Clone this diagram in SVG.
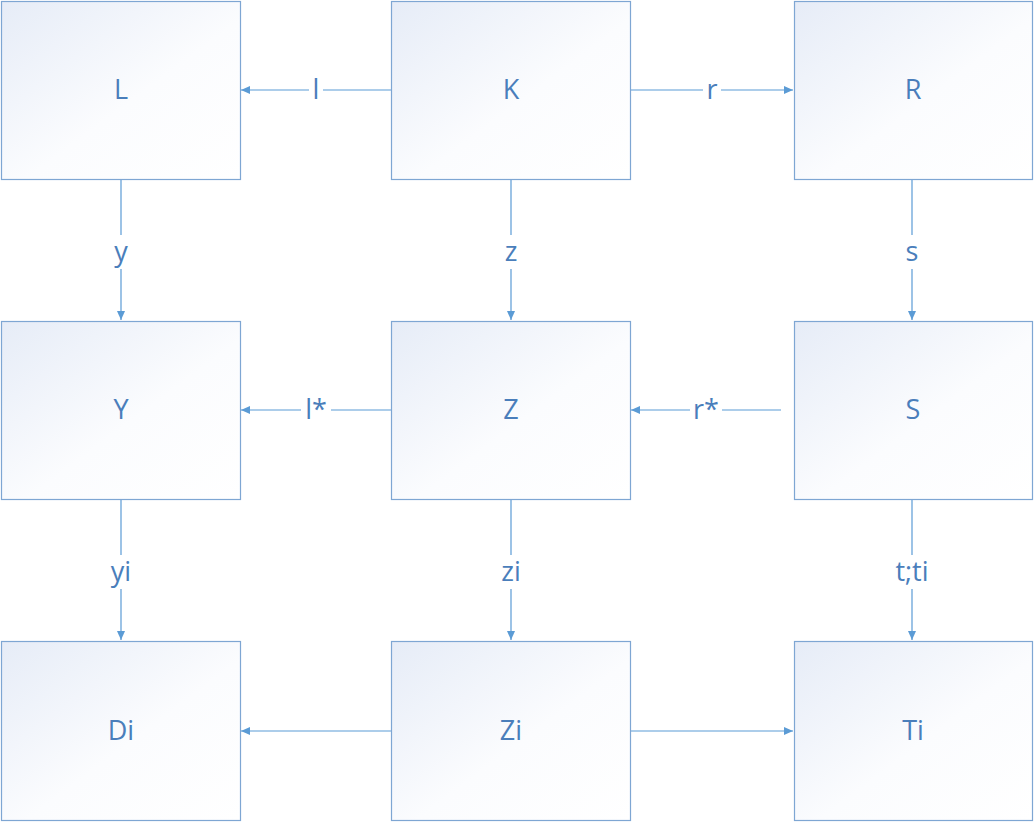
<svg xmlns="http://www.w3.org/2000/svg" width="1034" height="822" viewBox="0 0 1034 822">
<defs>
<linearGradient id="g" x1="0" y1="0" x2="1" y2="1">
<stop offset="0" stop-color="#e6ecf7"/>
<stop offset="0.55" stop-color="#fbfcfe"/>
<stop offset="1" stop-color="#ffffff"/>
</linearGradient>
<marker id="a" markerWidth="10" markerHeight="10" refX="9" refY="5" orient="auto" markerUnits="userSpaceOnUse">
<path d="M0,1 L9,5 L0,9 Z" fill="#5b9bd5"/>
</marker>
<style>
.box{fill:url(#g);stroke:#7ea6d3;stroke-width:1.2}
.t{font-family:"Open Sans","Noto Sans",sans-serif;font-size:27px;fill:#4a7ebb;text-anchor:middle}
.lb{font-family:"Open Sans","Noto Sans",sans-serif;font-size:27px;fill:#4a7ebb;text-anchor:middle}
.c{stroke:#5b9bd5;stroke-width:1.2;fill:none}
.bg{fill:#ffffff}
</style>
</defs>
<rect width="1034" height="822" fill="#ffffff"/>
<g id="connectors">
<line class="c" x1="391" y1="90" x2="241" y2="90" marker-end="url(#a)"/>
<line class="c" x1="630" y1="90" x2="793" y2="90" marker-end="url(#a)"/>
<line class="c" x1="121" y1="180" x2="121" y2="320" marker-end="url(#a)"/>
<line class="c" x1="511" y1="180" x2="511" y2="320" marker-end="url(#a)"/>
<line class="c" x1="912" y1="180" x2="912" y2="320" marker-end="url(#a)"/>
<line class="c" x1="391" y1="410" x2="241" y2="410" marker-end="url(#a)"/>
<line class="c" x1="781" y1="410" x2="631" y2="410" marker-end="url(#a)"/>
<line class="c" x1="121" y1="500" x2="121" y2="640" marker-end="url(#a)"/>
<line class="c" x1="511" y1="500" x2="511" y2="640" marker-end="url(#a)"/>
<line class="c" x1="912" y1="500" x2="912" y2="640" marker-end="url(#a)"/>
<line class="c" x1="391" y1="731" x2="241" y2="731" marker-end="url(#a)"/>
<line class="c" x1="630" y1="731" x2="793" y2="731" marker-end="url(#a)"/>
<rect class="bg" x="309" y="76" width="14" height="28"/>
<text class="lb" x="316" y="99">l</text>
<rect class="bg" x="703" y="76" width="18" height="28"/>
<text class="lb" x="712" y="99">r</text>
<rect class="bg" x="109" y="235" width="24" height="34"/>
<text class="lb" x="121" y="261">y</text>
<rect class="bg" x="499" y="235" width="24" height="34"/>
<text class="lb" x="511" y="261">z</text>
<rect class="bg" x="900" y="235" width="24" height="34"/>
<text class="lb" x="912" y="261">s</text>
<rect class="bg" x="301" y="396" width="30" height="28"/>
<text class="lb" x="316" y="419">l*</text>
<rect class="bg" x="690" y="396" width="32" height="28"/>
<text class="lb" x="706" y="419">r*</text>
<rect class="bg" x="105" y="555" width="32" height="34"/>
<text class="lb" x="121" y="581">yi</text>
<rect class="bg" x="495" y="555" width="32" height="34"/>
<text class="lb" x="511" y="581">zi</text>
<rect class="bg" x="889" y="555" width="46" height="34"/>
<text class="lb" x="912" y="581">t;ti</text>
</g>
<g id="L"><rect class="box" x="1.5" y="1.5" width="239" height="178"/><text class="t" x="121" y="99">L</text></g>
<g id="K"><rect class="box" x="391.5" y="1.5" width="239" height="178"/><text class="t" x="511" y="99">K</text></g>
<g id="R"><rect class="box" x="794.5" y="1.5" width="238" height="178"/><text class="t" x="913" y="99">R</text></g>
<g id="Y"><rect class="box" x="1.5" y="321.5" width="239" height="178"/><text class="t" x="121" y="419">Y</text></g>
<g id="Z"><rect class="box" x="391.5" y="321.5" width="239" height="178"/><text class="t" x="511" y="419">Z</text></g>
<g id="S"><rect class="box" x="794.5" y="321.5" width="238" height="178"/><text class="t" x="913" y="419">S</text></g>
<g id="Di"><rect class="box" x="1.5" y="641.5" width="239" height="179"/><text class="t" x="121" y="740">Di</text></g>
<g id="Zi"><rect class="box" x="391.5" y="641.5" width="239" height="179"/><text class="t" x="511" y="740">Zi</text></g>
<g id="Ti"><rect class="box" x="794.5" y="641.5" width="238" height="179"/><text class="t" x="913" y="740">Ti</text></g>
</svg>
